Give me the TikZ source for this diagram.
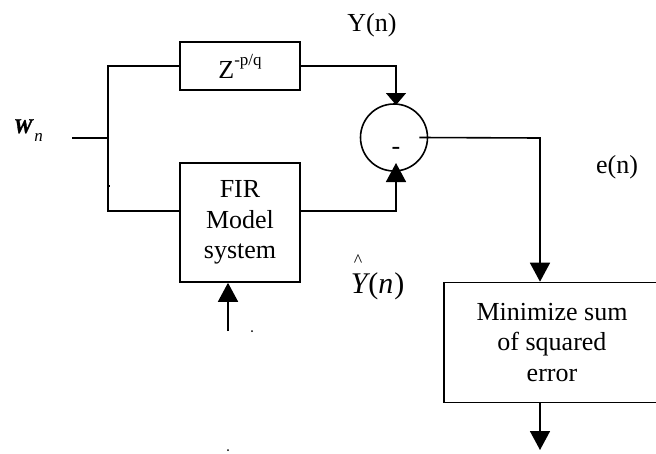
\documentclass[tikz,border=0pt]{standalone}
\usepackage{fontspec}
\setmainfont{Liberation Serif}
\newfontface\wface{Liberation Serif Bold Italic}[FakeBold=1.5]
\usetikzlibrary{arrows.meta}
\begin{document}
\begin{tikzpicture}[x=1pt,y=-1pt,
  line width=1.6pt,
  blk/.style={draw, line width=1.6pt, inner sep=0pt, align=center, font=\fontsize{26}{30.5}\selectfont},
  lbl/.style={inner sep=0pt, font=\fontsize{26}{30.5}\selectfont},
  tipA/.style={-{Triangle[width=20pt,length=19pt]}},
  tipB/.style={-{Triangle[width=20pt,length=12pt]}},
  dotn/.style={circle, fill, inner sep=0pt, minimum size=2pt}
]
\useasboundingbox (0,0) rectangle (656,453);
\clip (0,0) rectangle (656,453);

% blocks
\node[blk, minimum width=120pt, minimum height=48pt] (z) at (240,66)
  {Z\raisebox{13pt}{\fontsize{17}{17}\selectfont -p/q}};
\node[blk, minimum width=120pt, minimum height=119pt] (fir) at (240,222.5)
  {FIR\\Model\\system};
\node[draw, circle, minimum size=67pt, inner sep=0pt] (sum) at (394,137.5) {};
\node[blk, minimum width=216pt, minimum height=120pt] (min) at (552,342.5)
  {Minimize sum\\of squared\\error};

% junction coordinates
\coordinate (in) at (72,138);
\coordinate (split) at (108,138);
\coordinate (j1) at (108,66);
\coordinate (j2) at (108,211);
\coordinate (c1) at (396,66);
\coordinate (c2) at (396,211);
\coordinate (sumtop) at (396,105);
\coordinate (sumbot) at (396,163);
\coordinate (ocorner) at (540,138);
\coordinate (fend) at (540,450);
\coordinate (firsrc) at (228,331);

% connectors
\draw (in) -- (split);
\draw (z.west) -- (j1) -- (j2) -- (fir.west |- j2);
\draw (108,186) -- (110,186);
\draw[tipB] (z.east) -- (c1) -- (sumtop);
\draw[tipA] (fir.east |- c2) -- (c2) -- (sumbot);
\draw[tipA] ([xshift=-9pt]sum.east) -- (ocorner) -- (ocorner |- min.north);
\draw[tipA] (fend |- min.south) -- (fend);
\draw[tipA] (firsrc) -- (firsrc |- fir.south);

% labels
\node[lbl, anchor=base] (yn) at (372,31) {Y(n)};
\node[lbl, anchor=base] (en) at (617,173) {e(n)};
\node[lbl, anchor=base] (minus) at (396,154) {-};
\node[anchor=base west, inner sep=0pt] (wn) at (13,133)
  {\fontsize{21}{21}\selectfont\wface W\kern2pt\raisebox{-8pt}{\fontsize{17}{17}\selectfont\normalfont\itshape n}};
\node[anchor=base west, inner sep=0pt] (yhat) at (350,293)
  {\fontsize{30}{30}\selectfont\itshape Y\kern1pt\upshape(\itshape n\kern1pt\upshape)};
\node[anchor=base, inner sep=0pt] (hat) at (358,260)
  {\fontsize{18}{18}\selectfont\raisebox{-6pt}[7pt][0pt]{\symbol{94}}};

% stray dots
\node[dotn] (d1) at (252,331) {};
\node[dotn] (d2) at (228,450) {};
\end{tikzpicture}
\end{document}
